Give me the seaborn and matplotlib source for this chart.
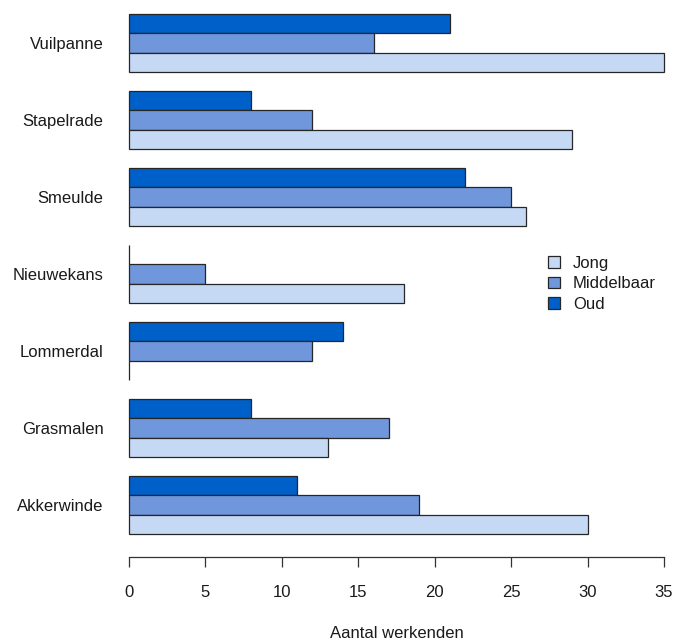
import matplotlib
matplotlib.use("Agg")
import matplotlib.pyplot as plt
from matplotlib.patches import Patch
import seaborn as sns
import pandas as pd

# Number of workers per neighbourhood, split by age group
wijken = ["Vuilpanne", "Stapelrade", "Smeulde", "Nieuwekans",
          "Lommerdal", "Grasmalen", "Akkerwinde"]
jong = [35, 29, 26, 18, 0, 13, 30]
middelbaar = [16, 12, 25, 5, 12, 17, 19]
oud = [21, 8, 22, 0, 14, 8, 11]

groepen = ["Jong", "Middelbaar", "Oud"]
kleuren = {"Jong": "#c6d9f4", "Middelbaar": "#7097db", "Oud": "#0060c9"}
xticks = [0, 5, 10, 15, 20, 25, 30, 35]

df = pd.DataFrame({
    "wijk": wijken * 3,
    "groep": ["Jong"] * 7 + ["Middelbaar"] * 7 + ["Oud"] * 7,
    "aantal": jong + middelbaar + oud,
})

sns.set_style("white")
plt.rcParams["font.family"] = ["Liberation Sans", "DejaVu Sans"]

fig = plt.figure(figsize=(6.75, 6.41), dpi=100)
ax = fig.add_axes([0.1799, 0.131, 0.815, 0.862])

sns.barplot(data=df, y="wijk", x="aantal", hue="groep", order=wijken,
            hue_order=["Oud", "Middelbaar", "Jong"], palette=kleuren,
            saturation=1, orient="h", width=0.75, edgecolor="#262626",
            linewidth=0.9, errorbar=None, legend=False, ax=ax)

ax.set_xlim(-0.5, 35.5)
ax.set_ylim(6.675, -0.5)
ax.set_xticks(xticks)
ax.set_xticklabels([str(t) for t in xticks])
ax.tick_params(axis="x", bottom=True, length=7, width=0.9, color="#333333",
               pad=13, labelsize=12, labelcolor="#1a1a1a")
ax.tick_params(axis="y", left=False, length=0, pad=13, labelsize=12,
               labelcolor="#1a1a1a")
ax.set_ylabel("")
ax.set_xlabel("Aantal werkenden", fontsize=12, color="#1a1a1a", labelpad=19)

for s in ["top", "right", "left"]:
    ax.spines[s].set_visible(False)
ax.spines["bottom"].set_bounds(0, 35)
ax.spines["bottom"].set_color("#333333")
ax.spines["bottom"].set_linewidth(0.9)

handles = [Patch(facecolor=kleuren[g], edgecolor="#262626", linewidth=0.9, label=g)
           for g in groepen]
ax.legend(handles=handles, loc="upper left", bbox_to_anchor=(0.748, 0.572),
          frameon=False, fontsize=12, handlelength=0.7, handleheight=0.7,
          handletextpad=0.8, labelspacing=0.32, labelcolor="#1a1a1a")

fig.savefig("out.png", dpi=100)
